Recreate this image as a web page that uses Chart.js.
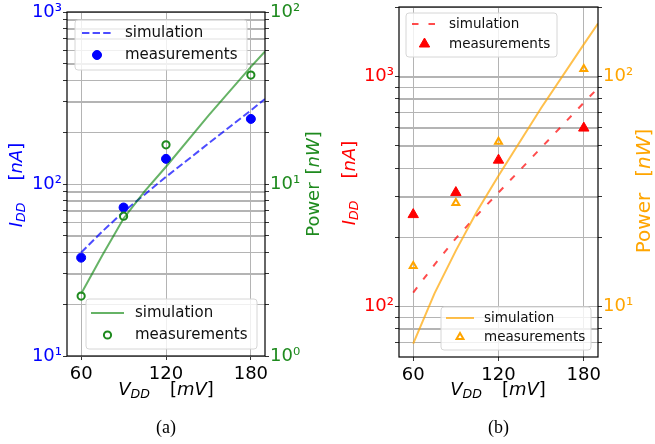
<!DOCTYPE html>
<html>
<head>
<meta charset="utf-8">
<script src="https://cdn.jsdelivr.net/npm/chart.js@4"></script>
<style>
  body { margin: 0; background: #fff; }
  #wrap { position: relative; width: 655px; height: 444px; overflow: hidden; }
  canvas { position: absolute; top: 0; }
  #chartA { left: 0; }
  #chartB { left: 330px; }
</style>
</head>
<body>
<div id="wrap">
  <canvas id="chartA" width="330" height="444"></canvas>
  <canvas id="chartB" width="325" height="444"></canvas>
</div>
<script>
// supply voltage [mV]
const vddMeas = [60, 90, 120, 180];
const vddSim = [60, 75, 90, 105, 120, 150, 180, 190];
const xTicks = [60, 120, 180];

// (a) current [nA] and power [nW]
const idSimA = [40, 53, 69, 87, 110, 172, 268, 312];
const idMeasA = [37.3, 73, 140, 239];
const powSimA = [2.3, 3.85, 6.3, 9.1, 12.6, 25, 48, 59];
const powMeasA = [2.23, 6.5, 16.9, 43];

// (b) current [nA] and power [nW]
const idSimB = [115, 152, 198, 250, 313, 490, 770, 891];
const idMeasB = [251, 313, 433, 597];
const powSimB = [6.9, 11.4, 17.5, 26, 37, 73, 138, 170];
const powMeasB = [15.0, 28.2, 52, 108];

const FONT = '"DejaVu Sans", sans-serif';
const SUP = '⁰¹²³⁴⁵⁶⁷⁸⁹';
const GRID = '#b4b4b4';

function isDecade(v) {
  const l = Math.log10(v);
  return Math.abs(l - Math.round(l)) < 1e-9;
}

// 1..9 x 10^n ticks inside [lo, hi]
function logTicks(lo, hi) {
  const out = [];
  for (let e = Math.floor(Math.log10(lo)); e <= Math.ceil(Math.log10(hi)); e++) {
    for (let m = 1; m < 10; m++) {
      const v = m * Math.pow(10, e);
      if (v >= lo * 0.999 && v <= hi * 1.001) out.push(v);
    }
  }
  return out;
}

function pts(xs, ys) {
  return xs.map((x, i) => ({ x: x, y: ys[i] }));
}

function drawMarker(ctx, m, x, y) {
  ctx.save();
  ctx.lineWidth = m.bw;
  ctx.strokeStyle = m.color;
  ctx.fillStyle = m.color;
  ctx.beginPath();
  if (m.style === 'circle') {
    ctx.arc(x, y, m.r, 0, Math.PI * 2);
  } else {
    let a = 0;
    ctx.moveTo(x + Math.sin(a) * m.r, y - Math.cos(a) * m.r);
    for (let k = 0; k < 2; k++) {
      a += Math.PI * 2 / 3;
      ctx.lineTo(x + Math.sin(a) * m.r, y - Math.cos(a) * m.r);
    }
    ctx.closePath();
  }
  if (m.fill) ctx.fill();
  if (m.bw > 0) ctx.stroke();
  ctx.restore();
}

// text made of runs: italic / subscript / plain, optionally rotated
function drawRuns(ctx, t) {
  const size = t.size;
  const fontOf = r => (r.it ? 'italic ' : '') + (r.sub ? size * 0.7 : size) + 'px ' + FONT;
  let total = 0;
  t.runs.forEach(r => {
    if (r.gap) { total += r.gap; return; }
    ctx.font = fontOf(r);
    total += ctx.measureText(r.t).width;
  });
  ctx.save();
  ctx.translate(t.x, t.y);
  if (t.rot) ctx.rotate(-Math.PI / 2);
  ctx.fillStyle = t.color;
  ctx.textBaseline = 'middle';
  ctx.textAlign = 'left';
  let cx = -total / 2;
  t.runs.forEach(r => {
    if (r.gap) { cx += r.gap; return; }
    ctx.font = fontOf(r);
    ctx.fillText(r.t, cx, r.sub ? size * 0.28 : 0);
    cx += ctx.measureText(r.t).width;
  });
  ctx.restore();
}

// horizontal grid from the left log scale, legends, frame, titles, caption
function makeDecor(d) {
  return {
    id: 'panelDecor',
    beforeDatasetsDraw(chart) {
      const ctx = chart.ctx;
      const a = chart.chartArea;
      const s = chart.scales.yL;
      ctx.save();
      ctx.strokeStyle = GRID;
      ctx.lineWidth = 1;
      s.ticks.forEach(t => {
        const y = Math.round(s.getPixelForValue(t.value)) + 0.5;
        ctx.beginPath();
        ctx.moveTo(a.left, y);
        ctx.lineTo(a.right, y);
        ctx.stroke();
      });
      ctx.restore();
    },
    afterDraw(chart) {
      const ctx = chart.ctx;
      const a = chart.chartArea;
      ctx.save();
      d.legends.forEach(lg => {
        ctx.fillStyle = 'rgba(255,255,255,0.8)';
        ctx.strokeStyle = '#d6d6d6';
        ctx.lineWidth = 1;
        ctx.beginPath();
        ctx.roundRect(lg.x, lg.y, lg.w, lg.h, 3);
        ctx.fill();
        ctx.stroke();
        lg.items.forEach(it => {
          if (it.line) {
            ctx.save();
            ctx.strokeStyle = it.line.color;
            ctx.lineWidth = it.line.width;
            ctx.setLineDash(it.line.dash || []);
            ctx.beginPath();
            ctx.moveTo(lg.sx0, it.y);
            ctx.lineTo(lg.sx1, it.y);
            ctx.stroke();
            ctx.restore();
          }
          if (it.marker) drawMarker(ctx, it.marker, (lg.sx0 + lg.sx1) / 2, it.y);
          ctx.fillStyle = '#111';
          ctx.font = lg.size + 'px ' + FONT;
          ctx.textBaseline = 'middle';
          ctx.textAlign = 'left';
          ctx.fillText(it.label, lg.tx, it.y);
        });
      });
      ctx.strokeStyle = '#000';
      ctx.lineWidth = 1.2;
      ctx.strokeRect(a.left, a.top, a.right - a.left, a.bottom - a.top);
      d.titles.forEach(t => drawRuns(ctx, t));
      ctx.fillStyle = '#000';
      ctx.font = '18px "Liberation Serif", serif';
      ctx.textAlign = 'center';
      ctx.textBaseline = 'middle';
      ctx.fillText(d.caption, (a.left + a.right) / 2, 428);
      ctx.restore();
    }
  };
}

function yAxis(pos, range, color, width) {
  return {
    type: 'logarithmic',
    position: pos,
    min: range[0],
    max: range[1],
    afterBuildTicks: s => { s.ticks = logTicks(range[0], range[1]).map(v => ({ value: v })); },
    afterFit: s => { s.width = width; s.paddingTop = 0; s.paddingBottom = 0; },
    border: { display: false },
    grid: { drawOnChartArea: pos === 'left', color: GRID, lineWidth: 1, tickLength: 4, tickColor: '#333' },
    ticks: {
      color: color, padding: 1, autoSkip: false,
      font: { family: FONT, size: 18 },
      callback: v => isDecade(v) ? '10' + SUP[Math.round(Math.log10(v))] : ''
    }
  };
}

function makePanel(id, p) {
  return new Chart(document.getElementById(id), {
    type: 'line',
    data: {
      datasets: [
        { data: pts(vddSim, p.idSim), yAxisID: 'yL', borderColor: p.idLine, borderWidth: 2,
          borderDash: p.idDash, pointRadius: 0, tension: 0, order: 3 },
        { data: pts(vddMeas, p.idMeas), yAxisID: 'yL', showLine: false, pointStyle: p.idMark.style,
          pointRadius: p.idMark.r, pointBackgroundColor: p.idMark.color, pointBorderColor: p.idMark.color,
          pointBorderWidth: p.idMark.bw, order: 2 },
        { data: pts(vddSim, p.powSim), yAxisID: 'yR', borderColor: p.powLine, borderWidth: 2,
          pointRadius: 0, tension: 0, order: 1 },
        { data: pts(vddMeas, p.powMeas), yAxisID: 'yR', showLine: false, pointStyle: p.powMark.style,
          pointRadius: p.powMark.r, pointBackgroundColor: 'rgba(0,0,0,0)', pointBorderColor: p.powMark.color,
          pointBorderWidth: p.powMark.bw, order: 0 }
      ]
    },
    options: {
      responsive: false,
      animation: false,
      events: [],
      devicePixelRatio: 1,
      layout: { padding: p.pad },
      scales: {
        x: {
          type: 'linear', min: 50, max: 190,
          afterBuildTicks: s => { s.ticks = xTicks.map(v => ({ value: v })); },
          afterFit: s => { s.height = 30; s.paddingLeft = 0; s.paddingRight = 0; },
          border: { display: false },
          grid: { color: GRID, lineWidth: 1, tickLength: 4, tickColor: '#333' },
          ticks: { color: '#000', padding: 4, maxRotation: 0, font: { family: FONT, size: 18 } }
        },
        yL: yAxis('left', p.leftRange, p.idColor, p.leftW),
        yR: yAxis('right', p.rightRange, p.powColor, p.rightW)
      },
      plugins: {
        legend: { display: false },
        tooltip: { enabled: false }
      }
    },
    plugins: [makeDecor(p.decor)]
  });
}

const GREEN = '#1e8a1e';
const ORANGE = '#ffa500';

const blueDot = { style: 'circle', r: 4.5, bw: 1, color: '#0000ff', fill: true };
const greenRing = { style: 'circle', r: 3.6, bw: 2, color: GREEN, fill: false };
const redTri = { style: 'triangle', r: 6, bw: 1, color: '#ff0000', fill: true };
const orangeTri = { style: 'triangle', r: 4, bw: 2, color: ORANGE, fill: false };

function idTitle(x, y, color) {
  return { x: x, y: y, rot: true, color: color, size: 18, runs: [
    { t: 'I', it: true }, { t: 'DD', it: true, sub: true }, { gap: 22 },
    { t: '[' }, { t: 'nA', it: true }, { t: ']' }] };
}
function powTitle(x, y, color, size, gap) {
  return { x: x, y: y, rot: true, color: color, size: size, runs: [
    { t: 'Power' }, { gap: gap }, { t: '[' }, { t: 'nW', it: true }, { t: ']' }] };
}
function vTitle(x) {
  return { x: x, y: 390, rot: false, color: '#000', size: 18, runs: [
    { t: 'V', it: true }, { t: 'DD', it: true, sub: true }, { gap: 20 },
    { t: '[' }, { t: 'mV', it: true }, { t: ']' }] };
}

makePanel('chartA', {
  idSim: idSimA, idMeas: idMeasA, powSim: powSimA, powMeas: powMeasA,
  idLine: 'rgba(0,0,255,0.7)', idDash: [7.4, 3.2], powLine: 'rgba(0,128,0,0.6)',
  idMark: blueDot, powMark: greenRing,
  idColor: '#0000ff', powColor: GREEN,
  leftRange: [10, 1000], rightRange: [1, 100],
  leftW: 67, rightW: 65,
  pad: { top: 12, bottom: 58, left: 0, right: 0 },
  decor: {
    legends: [
      { x: 75, y: 20, w: 172, h: 50, sx0: 82, sx1: 112, tx: 125, size: 15, items: [
        { label: 'simulation', y: 33, line: { color: 'rgba(0,0,255,0.7)', width: 2, dash: [7.4, 3.2] } },
        { label: 'measurements', y: 55, marker: blueDot }] },
      { x: 86, y: 299, w: 171, h: 50, sx0: 91, sx1: 124, tx: 135, size: 15, items: [
        { label: 'simulation', y: 313, line: { color: 'rgba(0,128,0,0.6)', width: 2 } },
        { label: 'measurements', y: 335, marker: greenRing }] }
    ],
    titles: [idTitle(17, 185, '#0000ff'), powTitle(314, 184, GREEN, 18, 8), vTitle(166)],
    caption: '(a)'
  }
});

makePanel('chartB', {
  idSim: idSimB, idMeas: idMeasB, powSim: powSimB, powMeas: powMeasB,
  idLine: 'rgba(255,0,0,0.7)', idDash: [6.5, 10], powLine: 'rgba(255,165,0,0.7)',
  idMark: redTri, powMark: orangeTri,
  idColor: '#ff0000', powColor: ORANGE,
  leftRange: [60.3, 2007], rightRange: [6.03, 200.7],
  leftW: 69, rightW: 57,
  pad: { top: 6, bottom: 57, left: 0, right: 0 },
  decor: {
    legends: [
      { x: 76, y: 13, w: 151, h: 44, sx0: 82, sx1: 107, tx: 119, size: 13.5, items: [
        { label: 'simulation', y: 24, line: { color: 'rgba(255,0,0,0.7)', width: 2, dash: [6.5, 10] } },
        { label: 'measurements', y: 44, marker: redTri }] },
      { x: 111, y: 307, w: 150, h: 43, sx0: 116, sx1: 144, tx: 154, size: 13.5, items: [
        { label: 'simulation', y: 318, line: { color: 'rgba(255,165,0,0.7)', width: 2 } },
        { label: 'measurements', y: 337, marker: orangeTri }] }
    ],
    titles: [idTitle(20, 183, '#ff0000'), powTitle(315, 191, ORANGE, 20, 16), vTitle(168)],
    caption: '(b)'
  }
});
</script>
</body>
</html>
